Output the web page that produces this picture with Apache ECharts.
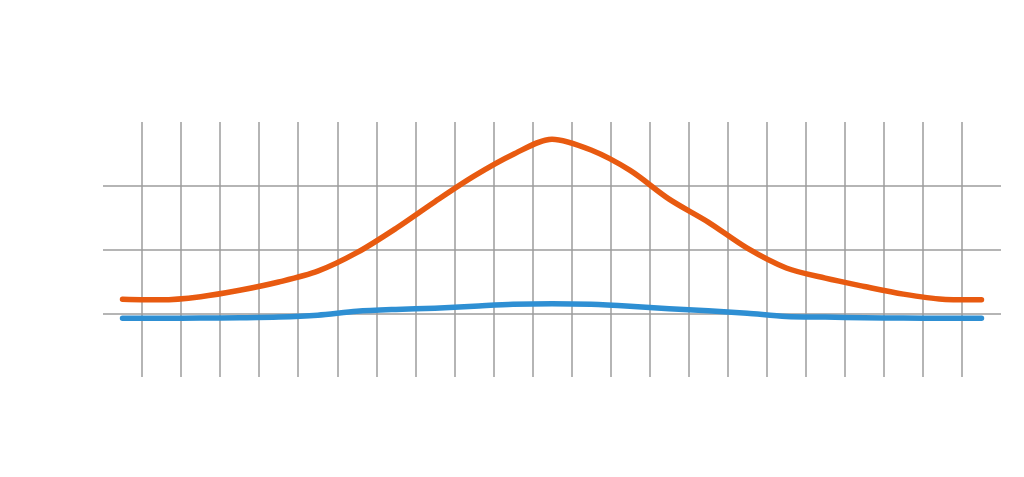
<!DOCTYPE html>
<html>
<head>
<meta charset="utf-8">
<script src="https://cdn.jsdelivr.net/npm/echarts@6/dist/echarts.min.js"></script>
<style>
html,body{margin:0;padding:0;background:#fff;}
#chart{width:1024px;height:477px;}
</style>
</head>
<body>
<div id="chart"></div>
<script>
const categories = ['1','2','3','4','5','6','7','8','9','10','11','12','13','14','15','16','17','18','19','20','21','22','23'];
const orangeValues = [22,21,26,36,49,66,95,133,175,215,249,273,256,224,179,143,102,71,55,42,30,22,21];
const blueValues = [-8,-8,-7.5,-7,-6,-3,3,6,8,11,14,15,14,11,7,4,0,-5,-6,-7,-7.5,-8,-8];
const yTicks = {min:-100, max:300, interval:100};

const chart = echarts.init(document.getElementById('chart'), null, {renderer:'canvas'});
chart.setOption({
  animation:false,
  backgroundColor:'#ffffff',
  grid:{left:103, right:23, top:122, bottom:100, containLabel:false},
  xAxis:{
    type:'category',
    data:categories,
    boundaryGap:true,
    axisLine:{show:false},
    axisTick:{show:false},
    axisLabel:{show:false},
    splitLine:{show:true, interval:0, showMinLine:false, showMaxLine:false,
      lineStyle:{color:'#9c9c9c', width:1.5}}
  },
  yAxis:{
    type:'value',
    min:yTicks.min, max:yTicks.max, interval:yTicks.interval,
    axisLine:{show:false},
    axisTick:{show:false},
    axisLabel:{show:false},
    splitLine:{show:true, showMinLine:false, showMaxLine:false,
      lineStyle:{color:'#9c9c9c', width:1.5}}
  },
  series:[
    {type:'line', data:orangeValues, smooth:0.3, symbol:'none',
      lineStyle:{color:'#e85a10', width:5.5, cap:'round', join:'round'}},
    {type:'line', data:blueValues, smooth:0.3, symbol:'none',
      lineStyle:{color:'#2e8fd3', width:5.5, cap:'round', join:'round'}}
  ]
});
</script>
</body>
</html>
